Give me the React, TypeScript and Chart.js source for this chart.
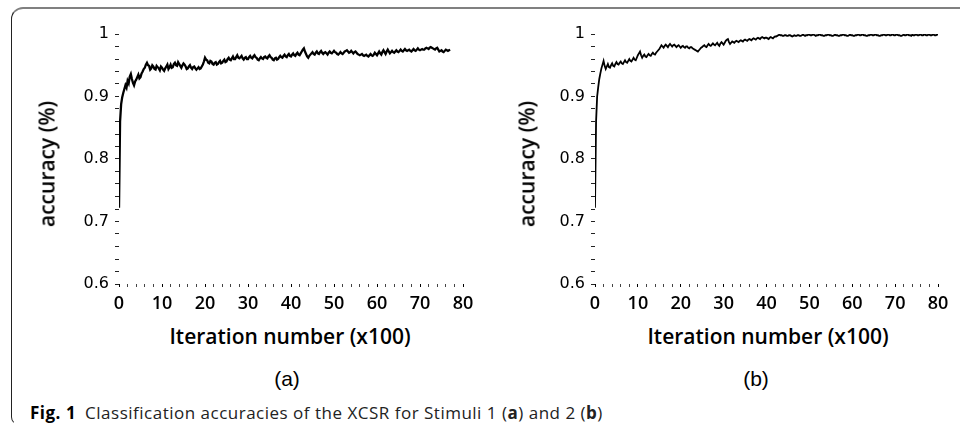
import React, { useEffect, useRef } from "react";
import { Chart, registerables } from "chart.js";

Chart.register(...registerables);

// ---- data ----
const ITER_STEP = 0.25; // x100 iterations between samples

const accuracyA = [
  0.722, 0.86, 0.888, 0.899,
  0.906, 0.912, 0.918, 0.914,
  0.925, 0.921, 0.932, 0.936,
  0.928, 0.922, 0.918, 0.924,
  0.927, 0.931, 0.935, 0.929,
  0.931, 0.937, 0.94, 0.944,
  0.946, 0.951, 0.954, 0.95,
  0.949, 0.943, 0.945, 0.95,
  0.948, 0.944, 0.943, 0.949,
  0.947, 0.945, 0.942, 0.948,
  0.946, 0.943, 0.941, 0.945,
  0.948, 0.951, 0.944, 0.947,
  0.951, 0.946, 0.947, 0.952,
  0.954, 0.95, 0.949, 0.955,
  0.952, 0.949, 0.946, 0.95,
  0.953, 0.951, 0.948, 0.944,
  0.945, 0.948, 0.95, 0.946,
  0.944, 0.947, 0.948, 0.945,
  0.943, 0.945, 0.947, 0.944,
  0.945, 0.948, 0.951, 0.956,
  0.962, 0.959, 0.958, 0.954,
  0.953, 0.957, 0.956, 0.952,
  0.951, 0.954, 0.955, 0.951,
  0.952, 0.955, 0.957, 0.953,
  0.954, 0.957, 0.959, 0.955,
  0.956, 0.96, 0.962, 0.959,
  0.958, 0.961, 0.964, 0.96,
  0.96, 0.963, 0.966, 0.962,
  0.961, 0.963, 0.965, 0.961,
  0.959, 0.962, 0.963, 0.96,
  0.96, 0.963, 0.965, 0.962,
  0.961, 0.964, 0.966, 0.963,
  0.962, 0.959, 0.958, 0.961,
  0.963, 0.961, 0.96, 0.963,
  0.964, 0.962, 0.961, 0.964,
  0.966, 0.963, 0.962, 0.959,
  0.958, 0.961, 0.962, 0.959,
  0.96, 0.963, 0.965, 0.963,
  0.962, 0.965, 0.967, 0.964,
  0.963, 0.966, 0.968, 0.965,
  0.964, 0.967, 0.969, 0.966,
  0.965, 0.968, 0.97, 0.967,
  0.966, 0.969, 0.972, 0.975,
  0.977, 0.972, 0.968, 0.964,
  0.962, 0.965, 0.967, 0.969,
  0.971, 0.968, 0.967, 0.97,
  0.972, 0.969, 0.968, 0.971,
  0.973, 0.97, 0.968, 0.97,
  0.971, 0.969, 0.967, 0.97,
  0.972, 0.97, 0.969, 0.971,
  0.973, 0.971, 0.97, 0.968,
  0.967, 0.969, 0.971, 0.969,
  0.968, 0.97, 0.972, 0.973,
  0.974, 0.972, 0.97, 0.971,
  0.973, 0.971, 0.969, 0.971,
  0.972, 0.97, 0.968, 0.967,
  0.966, 0.967, 0.968, 0.966,
  0.965, 0.966, 0.967, 0.965,
  0.964, 0.966, 0.968, 0.966,
  0.965, 0.967, 0.97, 0.968,
  0.966, 0.969, 0.972, 0.969,
  0.967, 0.971, 0.974, 0.971,
  0.968, 0.972, 0.975, 0.972,
  0.969, 0.971, 0.973, 0.971,
  0.97, 0.972, 0.974, 0.972,
  0.971, 0.973, 0.975, 0.973,
  0.972, 0.974, 0.976, 0.974,
  0.973, 0.974, 0.975, 0.973,
  0.972, 0.974, 0.976, 0.974,
  0.973, 0.975, 0.977, 0.975,
  0.974, 0.975, 0.976, 0.975,
  0.975, 0.977, 0.978, 0.977,
  0.976, 0.978, 0.979, 0.978,
  0.977, 0.976, 0.975, 0.977,
  0.978, 0.975, 0.972, 0.973,
  0.974, 0.972, 0.971, 0.973,
  0.975, 0.974, 0.973, 0.974,
  0.975,
];

const accuracyB = [
  0.722, 0.86, 0.9, 0.915,
  0.928, 0.937, 0.945, 0.951,
  0.957, 0.949, 0.944, 0.948,
  0.952, 0.947, 0.946, 0.95,
  0.953, 0.949, 0.948, 0.952,
  0.955, 0.952, 0.951, 0.954,
  0.956, 0.953, 0.952, 0.955,
  0.958, 0.955, 0.954, 0.957,
  0.96, 0.957, 0.956, 0.959,
  0.962, 0.959, 0.958, 0.962,
  0.966, 0.969, 0.972, 0.966,
  0.962, 0.965, 0.967, 0.964,
  0.963, 0.966, 0.968, 0.966,
  0.965, 0.968, 0.97, 0.968,
  0.967, 0.97, 0.972, 0.974,
  0.976, 0.979, 0.982, 0.98,
  0.978, 0.981, 0.983, 0.981,
  0.979, 0.982, 0.984, 0.982,
  0.98, 0.982, 0.983, 0.981,
  0.979, 0.981, 0.982, 0.98,
  0.978, 0.98, 0.981, 0.979,
  0.978, 0.98, 0.98, 0.978,
  0.977, 0.979, 0.979, 0.977,
  0.976, 0.975, 0.974, 0.973,
  0.972, 0.974, 0.976, 0.978,
  0.979, 0.981, 0.982, 0.98,
  0.979, 0.982, 0.984, 0.982,
  0.981, 0.983, 0.985, 0.983,
  0.982, 0.984, 0.986, 0.983,
  0.981, 0.985, 0.987, 0.985,
  0.983, 0.986, 0.989, 0.991,
  0.992, 0.987, 0.984, 0.986,
  0.988, 0.987, 0.986, 0.988,
  0.989, 0.988, 0.987, 0.989,
  0.99, 0.989, 0.988, 0.99,
  0.991, 0.99, 0.989, 0.991,
  0.992, 0.991, 0.99, 0.992,
  0.993, 0.992, 0.991, 0.993,
  0.994, 0.993, 0.992, 0.994,
  0.995, 0.994, 0.993, 0.994,
  0.994, 0.993, 0.992, 0.994,
  0.995, 0.994, 0.993, 0.995,
  0.996, 0.996, 0.997, 0.998,
  0.999, 0.998, 0.998, 0.997,
  0.997, 0.998, 0.998, 0.997,
  0.997, 0.998, 0.998, 0.997,
  0.996, 0.997, 0.998, 0.997,
  0.997, 0.998, 0.998, 0.997,
  0.997, 0.998, 0.999, 0.998,
  0.997, 0.998, 0.998, 0.999,
  0.999, 0.998, 0.998, 0.999,
  0.999, 0.998, 0.997, 0.998,
  0.998, 0.999, 0.999, 0.998,
  0.998, 0.997, 0.997, 0.998,
  0.998, 0.999, 0.999, 0.998,
  0.998, 0.997, 0.997, 0.998,
  0.999, 0.998, 0.998, 0.997,
  0.997, 0.998, 0.998, 0.999,
  0.999, 0.998, 0.998, 0.997,
  0.997, 0.998, 0.999, 0.998,
  0.998, 0.997, 0.997, 0.998,
  0.998, 0.999, 0.999, 0.998,
  0.998, 0.999, 0.999, 0.998,
  0.998, 0.997, 0.997, 0.998,
  0.998, 0.999, 0.999, 0.998,
  0.998, 0.999, 0.999, 0.998,
  0.998, 0.997, 0.997, 0.998,
  0.998, 0.999, 0.999, 0.998,
  0.998, 0.999, 0.999, 0.998,
  0.998, 0.999, 0.999, 0.998,
  0.998, 0.999, 0.999, 0.998,
  0.998, 0.997, 0.997, 0.998,
  0.999, 0.998, 0.998, 0.999,
  0.999, 0.998, 0.998, 0.997,
  0.999, 0.998, 0.998, 0.999,
  0.999, 0.998, 0.998, 0.999,
  0.999, 0.998, 0.998, 0.999,
  0.999, 0.998, 0.998, 0.999,
  0.999, 0.998, 0.998, 0.999,
  0.999, 0.998, 0.998, 0.999,
  0.999,
];

const iterationsA = accuracyA.map((_, i) => i * ITER_STEP);
const iterationsB = accuracyB.map((_, i) => i * ITER_STEP);

const yMin = 0.6;
const yMax = 1.0;
const yStep = 0.02;
const xMin = 0;
const xMax = 80;
const xStep = 2;

const yTitle = "accuracy (%)";
const xTitle = "Iteration number (x100)";

type Box = { left: number; right: number; top: number; bottom: number };

function MiniChart(props: {
  xs: number[];
  ys: number[];
  box: Box;
  lineWidth: number;
  width: number;
  height: number;
}) {
  const ref = useRef<HTMLCanvasElement | null>(null);
  useEffect(() => {
    if (!ref.current) return;
    const { box, width, height } = props;
    const chart = new Chart(ref.current, {
      type: "line",
      data: {
        datasets: [
          {
            data: props.xs.map((x, i) => ({ x, y: props.ys[i] })),
            borderColor: "#000",
            borderWidth: props.lineWidth,
            pointRadius: 0,
            tension: 0,
            fill: false,
          },
        ],
      },
      options: {
        animation: false,
        responsive: false,
        devicePixelRatio: 1,
        layout: {
          padding: { left: 0, top: box.top, right: width - box.right, bottom: 0 },
        },
        plugins: { legend: { display: false }, tooltip: { enabled: false } },
        scales: {
          x: {
            type: "linear",
            min: xMin,
            max: xMax,
            border: { display: false },
            grid: {
              drawOnChartArea: false,
              drawTicks: true,
              tickLength: 3,
              tickWidth: 1,
              tickColor: (ctx: any) =>
                ctx.tick && Math.round(ctx.tick.value) % 10 === 0 ? "#000" : "#444",
            },
            ticks: {
              stepSize: xStep,
              autoSkip: false,
              maxRotation: 0,
              padding: 6,
              color: "#000",
              font: { family: "'Open Sans'", size: 18, weight: 600 },
              callback: (v: any) => (Math.round(v) % 10 === 0 ? String(Math.round(v)) : ""),
            },
            afterFit: (s: any) => {
              s.height = height - box.bottom;
            },
          },
          y: {
            type: "linear",
            min: yMin,
            max: yMax,
            border: { display: false },
            grid: {
              drawOnChartArea: false,
              drawTicks: true,
              tickLength: 4,
              tickWidth: 1,
              tickColor: "#222",
            },
            ticks: {
              stepSize: yStep,
              autoSkip: false,
              padding: 6,
              color: "#000",
              font: { family: "'DejaVu Sans'", size: 16 },
              callback: (v: any) => {
                const k = Math.round(Number(v) * 100);
                if (k % 10 !== 0) return "";
                return k === 100 ? "1" : (k / 100).toFixed(1);
              },
            },
            afterFit: (s: any) => {
              s.width = box.left;
            },
          },
        },
      },
    } as any);
    return () => chart.destroy();
  }, []);
  return <canvas ref={ref} width={props.width} height={props.height} style={{ display: "block" }} />;
}

const abs = (l: number, t: number): React.CSSProperties => ({ position: "absolute", left: l, top: t });

export default function App() {
  const axisTitle: React.CSSProperties = {
    fontFamily: "'Open Sans'",
    fontWeight: 600,
    fontSize: 21,
    color: "#000",
    whiteSpace: "nowrap",
    lineHeight: 1,
  };
  const panelLabel: React.CSSProperties = {
    fontFamily: "'Liberation Sans', Arial",
    fontSize: 21,
    color: "#000",
    whiteSpace: "nowrap",
    lineHeight: 1,
  };
  return (
    <div style={{ position: "absolute", left: 0, top: 0, width: 960, height: 427, overflow: "hidden", background: "#fff" }}>
      <div
        style={{
          position: "absolute",
          left: 11,
          top: 7,
          width: 949,
          height: 418,
          boxSizing: "border-box",
          borderTop: "2px solid #808080",
          borderLeft: "1.5px solid #222",
          borderBottom: "1px solid transparent",
          borderTopLeftRadius: 12,
          borderBottomLeftRadius: 8,
        }}
      />
      <div style={abs(0, 0)}>
        <MiniChart xs={iterationsA} ys={accuracyA} box={{ left: 119, right: 463, top: 34, bottom: 284 }} lineWidth={2.3} width={480} height={320} />
      </div>
      <div style={abs(480, 0)}>
        <MiniChart xs={iterationsB} ys={accuracyB} box={{ left: 115, right: 458, top: 34, bottom: 284 }} lineWidth={1.8} width={480} height={320} />
      </div>

      <div style={{ ...abs(47, 164), ...axisTitle, transform: "translate(-50%, -50%) rotate(-90deg)" }}>{yTitle}</div>
      <div style={{ ...abs(527, 164), ...axisTitle, transform: "translate(-50%, -50%) rotate(-90deg)" }}>{yTitle}</div>
      <div style={{ ...abs(290, 336), ...axisTitle, transform: "translate(-50%, -50%)" }}>{xTitle}</div>
      <div style={{ ...abs(768, 336), ...axisTitle, transform: "translate(-50%, -50%)" }}>{xTitle}</div>

      <div style={{ ...abs(287, 378), ...panelLabel, transform: "translate(-50%, -50%)" }}>(a)</div>
      <div style={{ ...abs(756, 378), ...panelLabel, transform: "translate(-50%, -50%)" }}>(b)</div>

      <div style={{ ...abs(30, 404), fontFamily: "'Open Sans'", fontSize: 17, letterSpacing: 0.5, lineHeight: 1, color: "#222", whiteSpace: "nowrap" }}>
        <b style={{ color: "#000" }}>Fig. 1</b>
        {"\u2002"}Classification accuracies of the XCSR for Stimuli 1 (<b>a</b>) and 2 (<b>b</b>)
      </div>
    </div>
  );
}
